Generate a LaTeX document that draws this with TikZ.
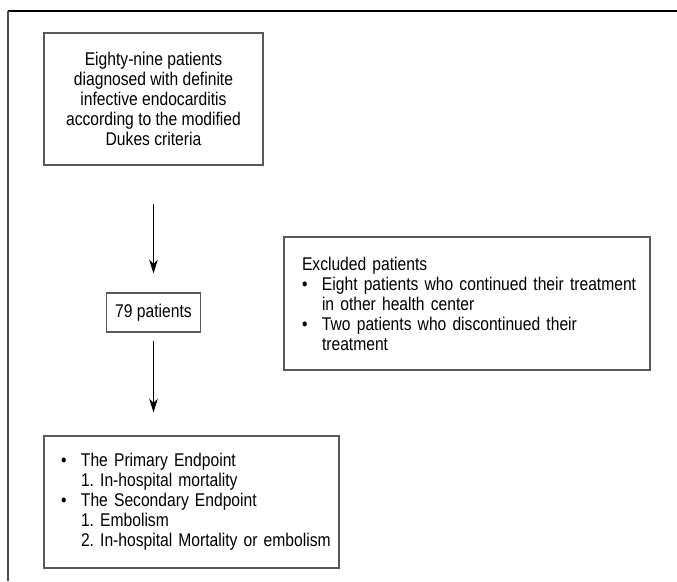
\documentclass[tikz,border=0pt]{standalone}
\usepackage{fontspec}
\setmainfont{Liberation Sans}[FakeStretch=0.85]
\usetikzlibrary{arrows.meta}
\newcommand{\bul}{\makebox[15pt][l]{\textbullet}}
\newcommand{\ind}{\hspace*{15pt}}
\begin{document}
\begin{tikzpicture}[x=0.75pt,y=-0.75pt,
  font=\fontsize{13.8pt}{15pt}\selectfont\frenchspacing,
  box/.style={draw=black!65,line width=0.8pt,inner ysep=0pt},
  arr/.style={draw,line width=0.8pt,-{Stealth[length=10.5pt,width=6.5pt]}}]
\useasboundingbox (0,0) rectangle (677,581);
% frame
\draw[line width=1.5pt] (8,11) -- (677,11);
\draw[black!70,line width=1pt] (8,11) -- (8,581);
% boxes
\node[box,align=center,minimum width=164.25pt,minimum height=99pt] (all) at (153.5,99)
  {Eighty-nine patients\\ diagnosed with definite\\ infective endocarditis\\ according to the modified\\ Dukes criteria};
\node[box,minimum width=70.5pt,minimum height=29.25pt] (kept) at (153.5,312.5) {79 patients};
\node[box,align=left,inner xsep=13.5pt,text width=247.5pt,minimum height=99.75pt] (excl) at (467,303.5)
  {Excluded patients\\
   \bul\mbox{Eight patients who continued their treatment}\\
   \ind in other health center\\
   \bul Two patients who discontinued their\\
   \ind treatment};
\node[box,align=left,inner xsep=12.75pt,text width=195.75pt,minimum height=99pt] (ends) at (191.5,502)
  {\bul The Primary Endpoint\\
   \ind 1. In-hospital mortality\\
   \bul The Secondary Endpoint\\
   \ind 1. Embolism\\
   \ind\mbox{2. In-hospital Mortality or embolism}};
% arrows
\draw[arr,shorten <=28.5pt,shorten >=14.25pt] (all) -- (kept);
\draw[arr,shorten <=6pt,shorten >=17.25pt] (kept.south) -- (kept.south |- ends.north);
\end{tikzpicture}
\end{document}
